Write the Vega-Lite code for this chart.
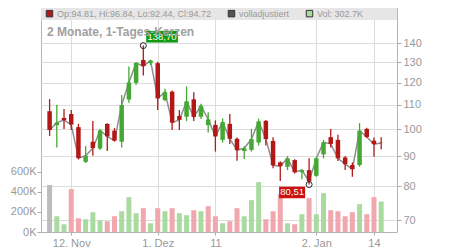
{
  "$schema": "https://vega.github.io/schema/vega-lite/v6.json",
  "width": 356,
  "height": 224,
  "autosize": {"type": "none"},
  "padding": {"left": 41, "top": 8, "right": 53, "bottom": 18},
  "config": {
    "font": "Liberation Sans",
    "view": {"stroke": "#b4b4b4", "strokeWidth": 1}
  },
  "title": {
    "text": "2 Monate, 1-Tages-Kerzen",
    "orient": "top",
    "anchor": "start",
    "frame": "group",
    "offset": -40,
    "dx": 6,
    "baseline": "alphabetic",
    "fontSize": 12,
    "fontWeight": "bold",
    "color": "#a0a0a0",
    "zindex": -1
  },
  "datasets": {
    "ohlc": [
      {"i": 0, "date": "2025-11-07", "o": 107.3, "h": 112.5, "l": 97.4, "c": 99.7, "v": 467000},
      {"i": 1, "date": "2025-11-10", "o": 101.6, "h": 110.0, "l": 93.1, "c": 102.6, "v": 157000},
      {"i": 2, "date": "2025-11-11", "o": 104.5, "h": 108.2, "l": 100.1, "c": 103.6, "v": 77000},
      {"i": 3, "date": "2025-11-12", "o": 106.1, "h": 107.8, "l": 99.7, "c": 101.8, "v": 427000},
      {"i": 4, "date": "2025-11-13", "o": 100.8, "h": 102.1, "l": 88.8, "c": 89.3, "v": 137000},
      {"i": 5, "date": "2025-11-14", "o": 88.0, "h": 93.6, "l": 87.6, "c": 90.1, "v": 127000},
      {"i": 6, "date": "2025-11-17", "o": 95.2, "h": 103.3, "l": 90.1, "c": 92.9, "v": 197000},
      {"i": 7, "date": "2025-11-18", "o": 92.7, "h": 100.0, "l": 92.2, "c": 99.5, "v": 117000},
      {"i": 8, "date": "2025-11-19", "o": 102.1, "h": 102.3, "l": 91.8, "c": 97.2, "v": 107000},
      {"i": 9, "date": "2025-11-20", "o": 99.4, "h": 100.4, "l": 95.3, "c": 95.6, "v": 157000},
      {"i": 10, "date": "2025-11-21", "o": 95.2, "h": 114.3, "l": 93.1, "c": 109.9, "v": 207000},
      {"i": 11, "date": "2025-11-24", "o": 112.3, "h": 127.8, "l": 110.9, "c": 120.1, "v": 347000},
      {"i": 12, "date": "2025-11-25", "o": 119.9, "h": 130.1, "l": 118.9, "c": 129.6, "v": 187000},
      {"i": 13, "date": "2025-11-26", "o": 131.1, "h": 138.7, "l": 123.4, "c": 128.0, "v": 237000},
      {"i": 14, "date": "2025-11-28", "o": 129.5, "h": 131.1, "l": 128.6, "c": 130.8, "v": 87000},
      {"i": 15, "date": "2025-12-01", "o": 129.5, "h": 130.2, "l": 107.8, "c": 112.8, "v": 237000},
      {"i": 16, "date": "2025-12-02", "o": 112.1, "h": 117.2, "l": 111.6, "c": 115.6, "v": 207000},
      {"i": 17, "date": "2025-12-03", "o": 115.8, "h": 116.4, "l": 99.7, "c": 102.6, "v": 237000},
      {"i": 18, "date": "2025-12-04", "o": 105.3, "h": 107.8, "l": 99.7, "c": 103.7, "v": 187000},
      {"i": 19, "date": "2025-12-05", "o": 105.0, "h": 118.2, "l": 103.2, "c": 111.5, "v": 167000},
      {"i": 20, "date": "2025-12-08", "o": 112.4, "h": 115.6, "l": 103.3, "c": 104.9, "v": 217000},
      {"i": 21, "date": "2025-12-09", "o": 105.0, "h": 110.5, "l": 104.1, "c": 109.6, "v": 207000},
      {"i": 22, "date": "2025-12-10", "o": 101.6, "h": 106.9, "l": 98.7, "c": 103.9, "v": 257000},
      {"i": 23, "date": "2025-12-11", "o": 101.7, "h": 103.5, "l": 91.6, "c": 97.2, "v": 157000},
      {"i": 24, "date": "2025-12-12", "o": 95.9, "h": 104.3, "l": 94.9, "c": 102.8, "v": 87000},
      {"i": 25, "date": "2025-12-15", "o": 102.1, "h": 106.1, "l": 94.4, "c": 96.3, "v": 107000},
      {"i": 26, "date": "2025-12-16", "o": 96.3, "h": 96.8, "l": 88.4, "c": 92.1, "v": 237000},
      {"i": 27, "date": "2025-12-17", "o": 91.8, "h": 93.5, "l": 89.0, "c": 92.8, "v": 157000},
      {"i": 28, "date": "2025-12-18", "o": 92.2, "h": 100.1, "l": 91.6, "c": 96.2, "v": 317000},
      {"i": 29, "date": "2025-12-19", "o": 94.9, "h": 104.2, "l": 93.8, "c": 103.1, "v": 497000},
      {"i": 30, "date": "2025-12-22", "o": 103.3, "h": 103.7, "l": 93.8, "c": 96.2, "v": 127000},
      {"i": 31, "date": "2025-12-23", "o": 95.5, "h": 96.9, "l": 85.8, "c": 86.8, "v": 207000},
      {"i": 32, "date": "2025-12-24", "o": 87.8, "h": 88.2, "l": 81.6, "c": 86.5, "v": 377000},
      {"i": 33, "date": "2025-12-26", "o": 86.3, "h": 90.0, "l": 85.2, "c": 89.2, "v": 87000},
      {"i": 34, "date": "2025-12-29", "o": 88.6, "h": 88.9, "l": 84.1, "c": 84.5, "v": 77000},
      {"i": 35, "date": "2025-12-30", "o": 84.5, "h": 85.5, "l": 82.2, "c": 85.2, "v": 177000},
      {"i": 36, "date": "2025-12-31", "o": 85.2, "h": 89.2, "l": 80.51, "c": 81.5, "v": 337000},
      {"i": 37, "date": "2026-01-02", "o": 83.3, "h": 89.7, "l": 83.0, "c": 89.2, "v": 177000},
      {"i": 38, "date": "2026-01-05", "o": 90.6, "h": 95.9, "l": 89.2, "c": 95.0, "v": 387000},
      {"i": 39, "date": "2026-01-06", "o": 96.9, "h": 100.1, "l": 93.1, "c": 94.4, "v": 217000},
      {"i": 40, "date": "2026-01-07", "o": 95.9, "h": 97.8, "l": 88.3, "c": 89.2, "v": 207000},
      {"i": 41, "date": "2026-01-08", "o": 89.5, "h": 90.0, "l": 85.2, "c": 87.2, "v": 157000},
      {"i": 42, "date": "2026-01-09", "o": 86.9, "h": 87.8, "l": 83.0, "c": 85.5, "v": 197000},
      {"i": 43, "date": "2026-01-12", "o": 86.9, "h": 102.4, "l": 86.3, "c": 99.4, "v": 277000},
      {"i": 44, "date": "2026-01-13", "o": 100.1, "h": 100.6, "l": 96.6, "c": 97.0, "v": 177000},
      {"i": 45, "date": "2026-01-14", "o": 95.6, "h": 96.8, "l": 89.8, "c": 94.3, "v": 347000},
      {"i": 46, "date": "2026-01-15", "o": 94.81, "h": 96.84, "l": 92.44, "c": 94.72, "v": 302700}
    ],
    "extremes": [
      {"i": 13, "p": 138.70, "lab": "138,70", "kind": "high"},
      {"i": 36, "p": 80.51, "lab": "80,51", "kind": "low"}
    ],
    "legend": [
      {"item": "Op:94.81, Hi:96.84, Lo:92.44, Cl:94.72"},
      {"item": "volladjustiert"},
      {"item": "Vol: 302.7K"}
    ]
  },
  "encoding": {
    "x": {
      "field": "i",
      "type": "quantitative",
      "title": null,
      "scale": {"domain": [-0.5, 47.5], "nice": false, "zero": false},
      "axis": {
        "values": [3, 15, 23, 37, 45],
        "labelExpr": "datum.value == 3 ? '12. Nov' : datum.value == 15 ? '1. Dez' : datum.value == 23 ? '11' : datum.value == 37 ? '2. Jan' : '14'",
        "title": null,
        "grid": true,
        "gridColor": "#dcdcdc",
        "domain": false,
        "tickColor": "#aaaaaa",
        "tickSize": 3,
        "labelColor": "#999999",
        "labelFontSize": 11,
        "labelPadding": 2,
        "labelFlush": false,
        "labelOverlap": false
      }
    }
  },
  "layer": [
    {
      "data": {"name": "ohlc"},
      "transform": [
        {"window": [{"op": "lag", "field": "c", "as": "pc"}], "sort": [{"field": "i", "order": "ascending"}]}
      ],
      "mark": {"type": "bar", "width": 5},
      "encoding": {
        "y": {
          "field": "v",
          "type": "quantitative",
          "title": null,
          "scale": {"domain": [0, 2230000], "nice": false},
          "axis": {
            "orient": "left",
            "values": [0, 200000, 400000, 600000],
            "labelExpr": "(datum.value / 1000) + 'K'",
            "title": null,
            "grid": false,
            "domain": false,
            "tickColor": "#aaaaaa",
            "tickSize": 4,
            "labelColor": "#999999",
            "labelFontSize": 11,
            "labelPadding": 1,
            "labelOverlap": false
          }
        },
        "color": {
          "condition": [
            {"test": "datum.pc == null", "value": "#bcbcbc"},
            {"test": "datum.c >= datum.pc", "value": "#a9dba1"}
          ],
          "value": "#f0a7ae"
        }
      }
    },
    {
      "layer": [
        {
          "data": {"name": "ohlc"},
          "mark": {"type": "line", "color": "#8f8f8f", "strokeWidth": 1.5},
          "encoding": {
            "y": {
              "field": "c",
              "type": "quantitative",
              "title": null,
              "scale": {"type": "log", "domain": [66.86, 160.7], "nice": false, "zero": false},
              "axis": {
                "orient": "right",
                "values": [70, 80, 90, 100, 110, 120, 130, 140],
                "format": "d",
                "title": null,
                "grid": true,
                "gridColor": "#dcdcdc",
                "domain": false,
                "tickColor": "#aaaaaa",
                "tickSize": 4,
                "labelColor": "#999999",
                "labelFontSize": 11,
                "labelPadding": 2,
                "labelFlush": false,
                "labelOverlap": false
              }
            }
          }
        },
        {
          "data": {"name": "ohlc"},
          "mark": {"type": "rule", "strokeWidth": 1.3},
          "encoding": {
            "y": {"field": "l", "type": "quantitative", "title": null},
            "y2": {"field": "h"},
            "color": {"condition": {"test": "datum.c >= datum.o", "value": "#45a834"}, "value": "#b21818"}
          }
        },
        {
          "data": {"name": "ohlc"},
          "mark": {"type": "bar", "width": 4.5},
          "encoding": {
            "y": {"field": "o", "type": "quantitative", "title": null},
            "y2": {"field": "c"},
            "color": {"condition": {"test": "datum.c >= datum.o", "value": "#45a834"}, "value": "#b21818"}
          }
        },
        {
          "data": {"name": "extremes"},
          "mark": {"type": "point", "shape": "circle", "filled": false, "size": 36, "stroke": "#222222", "strokeWidth": 1, "opacity": 1},
          "encoding": {
            "y": {"field": "p", "type": "quantitative", "title": null}
          }
        },
        {
          "data": {"name": "extremes"},
          "transform": [{"filter": "datum.kind == 'high'"}],
          "mark": {"type": "point", "shape": "M-1,-0.37L1,-0.37L1,0.37L-1,0.37Z", "filled": true, "size": 1005, "color": "#109a10", "opacity": 1, "strokeWidth": 0, "xOffset": 18.7, "yOffset": -8.9},
          "encoding": {
            "y": {"field": "p", "type": "quantitative", "title": null}
          }
        },
        {
          "data": {"name": "extremes"},
          "transform": [{"filter": "datum.kind == 'high'"}],
          "mark": {"type": "text", "color": "#ffffff", "fontSize": 9.5, "align": "center", "baseline": "middle", "dx": 18.7, "dy": -8.9},
          "encoding": {
            "y": {"field": "p", "type": "quantitative", "title": null},
            "text": {"field": "lab"}
          }
        },
        {
          "data": {"name": "extremes"},
          "transform": [{"filter": "datum.kind == 'low'"}],
          "mark": {"type": "point", "shape": "M-1,-0.446L1,-0.446L1,0.446L-1,0.446Z", "filled": true, "size": 676, "color": "#cc1111", "opacity": 1, "strokeWidth": 0, "xOffset": -17, "yOffset": 7.9},
          "encoding": {
            "y": {"field": "p", "type": "quantitative", "title": null}
          }
        },
        {
          "data": {"name": "extremes"},
          "transform": [{"filter": "datum.kind == 'low'"}],
          "mark": {"type": "text", "color": "#ffffff", "fontSize": 9.5, "align": "center", "baseline": "middle", "dx": -17, "dy": 7.9},
          "encoding": {
            "y": {"field": "p", "type": "quantitative", "title": null},
            "text": {"field": "lab"}
          }
        },
        {
          "data": {"name": "legend"},
          "mark": {"type": "point", "shape": "square", "filled": true, "opacity": 0},
          "encoding": {
            "x": null,
            "color": {
              "field": "item",
              "type": "nominal",
              "scale": {
                "domain": ["Op:94.81, Hi:96.84, Lo:92.44, Cl:94.72", "volladjustiert", "Vol: 302.7K"],
                "range": ["#b21818", "#555555", "#a9dba1"]
              },
              "legend": {
                "orient": "none",
                "legendX": 0,
                "legendY": 0,
                "direction": "horizontal",
                "title": null,
                "fillColor": "#e6e6e6",
                "padding": 1,
                "symbolType": "square",
                "symbolSize": 42,
                "symbolOpacity": 1,
                "symbolStrokeColor": "#333333",
                "symbolStrokeWidth": 1,
                "symbolOffset": 3,
                "labelFontSize": 9,
                "labelColor": "#9a9a9a",
                "labelOffset": 3,
                "labelLimit": 400,
                "columnPadding": 12,
                "labelExpr": "datum.value == 'Vol: 302.7K' ? datum.label + '\u00a0\u00a0\u00a0\u00a0\u00a0\u00a0\u00a0\u00a0\u00a0\u00a0\u00a0\u00a0\u00a0\u200b' : datum.label",
                "encode": {
                  "symbols": {"update": {"stroke": {"value": "#333333"}, "strokeWidth": {"value": 1}, "opacity": {"value": 1}}}
                }
              }
            }
          }
        }
      ]
    }
  ],
  "resolve": {"scale": {"y": "independent"}, "axis": {"y": "independent"}}
}
